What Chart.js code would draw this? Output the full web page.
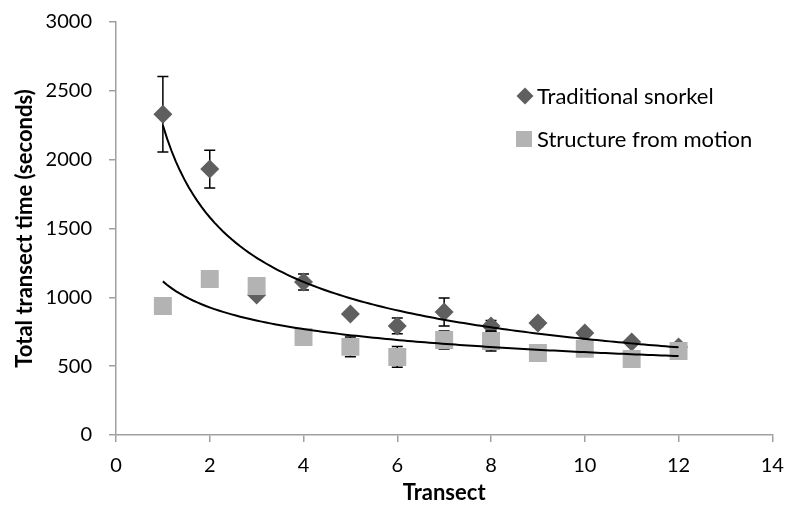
<!DOCTYPE html>
<html><head><meta charset="utf-8">
<script src="https://cdn.jsdelivr.net/npm/chart.js@4"></script>
<style>html,body{margin:0;padding:0;background:#fff}canvas{display:block}</style>
</head><body>
<canvas id="c" width="785" height="506"></canvas>
<script>
// ---- data ----
const transects     = [1, 2, 3, 4, 5, 6, 7, 8, 9, 10, 11, 12];
const snorkelTime   = [2330, 1932, 1017, 1111, 879, 792, 893, 792, 813, 741, 676, 640];
const snorkelErr    = [275, 137, 20, 58, 20, 57, 102, 40, 25, 20, 20, 20];
const sfmTime       = [937, 1133, 1082, 712, 640, 567, 690, 683, 595, 627, 552, 610];
const sfmErr        = [20, 20, 20, 20, 72, 75, 66, 72, 25, 25, 20, 20];
const xTickValues   = [0, 2, 4, 6, 8, 10, 12, 14];
const yTickValues   = [0, 500, 1000, 1500, 2000, 2500, 3000];
const seriesNames   = ['Traditional snorkel', 'Structure from motion'];
const xTitle        = 'Transect';
const yTitle        = 'Total transect time (seconds)';

// power-law trendline fitted to the data (least squares on ln-ln)
function powerFit(xs, ys) {
  const lx = xs.map(Math.log), ly = ys.map(Math.log), n = xs.length;
  const mx = lx.reduce((a, b) => a + b, 0) / n, my = ly.reduce((a, b) => a + b, 0) / n;
  let sxy = 0, sxx = 0;
  for (let i = 0; i < n; i++) { sxy += (lx[i] - mx) * (ly[i] - my); sxx += (lx[i] - mx) ** 2; }
  const b = sxy / sxx;
  return { a: Math.exp(my - b * mx), b };
}
function trendPoints(xs, ys) {
  const { a, b } = powerFit(xs, ys);
  const x0 = xs[0], x1 = xs[xs.length - 1], steps = 120, pts = [];
  for (let i = 0; i <= steps; i++) { const x = x0 + (x1 - x0) * i / steps; pts.push({ x, y: a * Math.pow(x, b) }); }
  return pts;
}

const DARK = '#5f5f5f', LIGHT = '#b3b3b3', AXIS = '#a0a0a0';
Chart.defaults.font.family = 'Lato';
Chart.defaults.color = '#000';

const errorBars = {
  id: 'errorBars',
  beforeDatasetDraw(chart, args) {
    const ds = chart.data.datasets[args.index];
    if (!ds.errors) return;
    const ctx = chart.ctx, ys = chart.scales.y;
    ctx.save();
    ctx.strokeStyle = '#000'; ctx.lineWidth = 1.5;
    args.meta.data.forEach((pt, i) => {
      const v = ds.data[i].y, e = ds.errors[i];
      const t = ys.getPixelForValue(v + e), b = ys.getPixelForValue(v - e), x = pt.x;
      ctx.beginPath();
      ctx.moveTo(x, t); ctx.lineTo(x, b);
      ctx.moveTo(x - 5.5, t); ctx.lineTo(x + 5.5, t);
      ctx.moveTo(x - 5.5, b); ctx.lineTo(x + 5.5, b);
      ctx.stroke();
    });
    ctx.restore();
  }
};

const insideLegend = {
  id: 'insideLegend',
  afterDraw(chart, args, opts) {
    const ctx = chart.ctx;
    ctx.save();
    ctx.font = '22px Lato';
    ctx.textBaseline = 'middle';
    opts.items.forEach(it => {
      const ds = chart.data.datasets[it.ds];
      ctx.fillStyle = ds.backgroundColor;
      ctx.beginPath();
      if (ds.pointStyle === 'rectRot') {
        const r = 8.5;
        ctx.moveTo(it.mx - r, it.y); ctx.lineTo(it.mx, it.y - r); ctx.lineTo(it.mx + r, it.y); ctx.lineTo(it.mx, it.y + r);
        ctx.closePath(); ctx.fill();
      } else {
        ctx.fillRect(it.mx - 8, it.y - 8, 16, 16);
      }
      ctx.fillStyle = '#000';
      ctx.fillText(ds.label, it.tx, it.y + 1);
    });
    ctx.restore();
  }
};

const pts = (ys) => transects.map((x, i) => ({ x, y: ys[i] }));
const zeroPad = s => { s.paddingLeft = 0; s.paddingRight = 0; s.paddingTop = 0; s.paddingBottom = 0; };

new Chart(document.getElementById('c'), {
  type: 'scatter',
  data: {
    datasets: [
      { type: 'line', data: trendPoints(transects, snorkelTime), borderColor: '#000', borderWidth: 2, pointRadius: 0, fill: false, tension: 0, order: 0 },
      { type: 'line', data: trendPoints(transects, sfmTime), borderColor: '#000', borderWidth: 2, pointRadius: 0, fill: false, tension: 0, order: 1 },
      { label: seriesNames[1], data: pts(sfmTime), errors: sfmErr, pointStyle: 'rect', pointRadius: 12.7, pointHoverRadius: 12.7, backgroundColor: LIGHT, borderColor: LIGHT, borderWidth: 0, order: 2 },
      { label: seriesNames[0], data: pts(snorkelTime), errors: snorkelErr, pointStyle: 'rectRot', pointRadius: 9.5, pointHoverRadius: 9.5, backgroundColor: DARK, borderColor: DARK, borderWidth: 0, order: 3 }
    ]
  },
  options: {
    responsive: false,
    animation: false,
    devicePixelRatio: 1,
    layout: { padding: { left: 0, top: 22, right: 12, bottom: 0 } },
    plugins: {
      legend: { display: false },
      tooltip: { enabled: false },
      insideLegend: { items: [ { ds: 3, mx: 525, tx: 537, y: 96 }, { ds: 2, mx: 524, tx: 537, y: 139 } ] }
    },
    scales: {
      x: {
        type: 'linear', min: 0, max: 14,
        afterBuildTicks: s => { s.ticks = xTickValues.map(v => ({ value: v })); },
        afterFit: s => { s.height = 71; zeroPad(s); },
        ticks: { font: { size: 20 }, color: '#000', padding: 12, maxRotation: 0, callback: v => String(v) },
        grid: { display: true, drawOnChartArea: false, drawTicks: true, tickLength: 7, color: AXIS, lineWidth: 1.5 },
        border: { display: true, color: AXIS, width: 1.5 },
        title: { display: true, text: xTitle, font: { size: 22, weight: 'bold' }, color: '#000', padding: { top: 0, bottom: 0 } }
      },
      y: {
        type: 'linear', min: 0, max: 3000,
        afterBuildTicks: s => { s.ticks = yTickValues.map(v => ({ value: v })); },
        afterFit: s => { s.width = 116; zeroPad(s); },
        ticks: { font: { size: 20 }, color: '#000', padding: 17, callback: v => String(v) },
        grid: { display: true, drawOnChartArea: false, drawTicks: true, tickLength: 7, color: AXIS, lineWidth: 1.5 },
        border: { display: true, color: AXIS, width: 1.5 },
        title: { display: true, text: yTitle, font: { size: 22, weight: 'bold' }, color: '#000', padding: { top: 12, bottom: 0 } }
      }
    }
  },
  plugins: [errorBars, insideLegend]
});
</script>
</body></html>
